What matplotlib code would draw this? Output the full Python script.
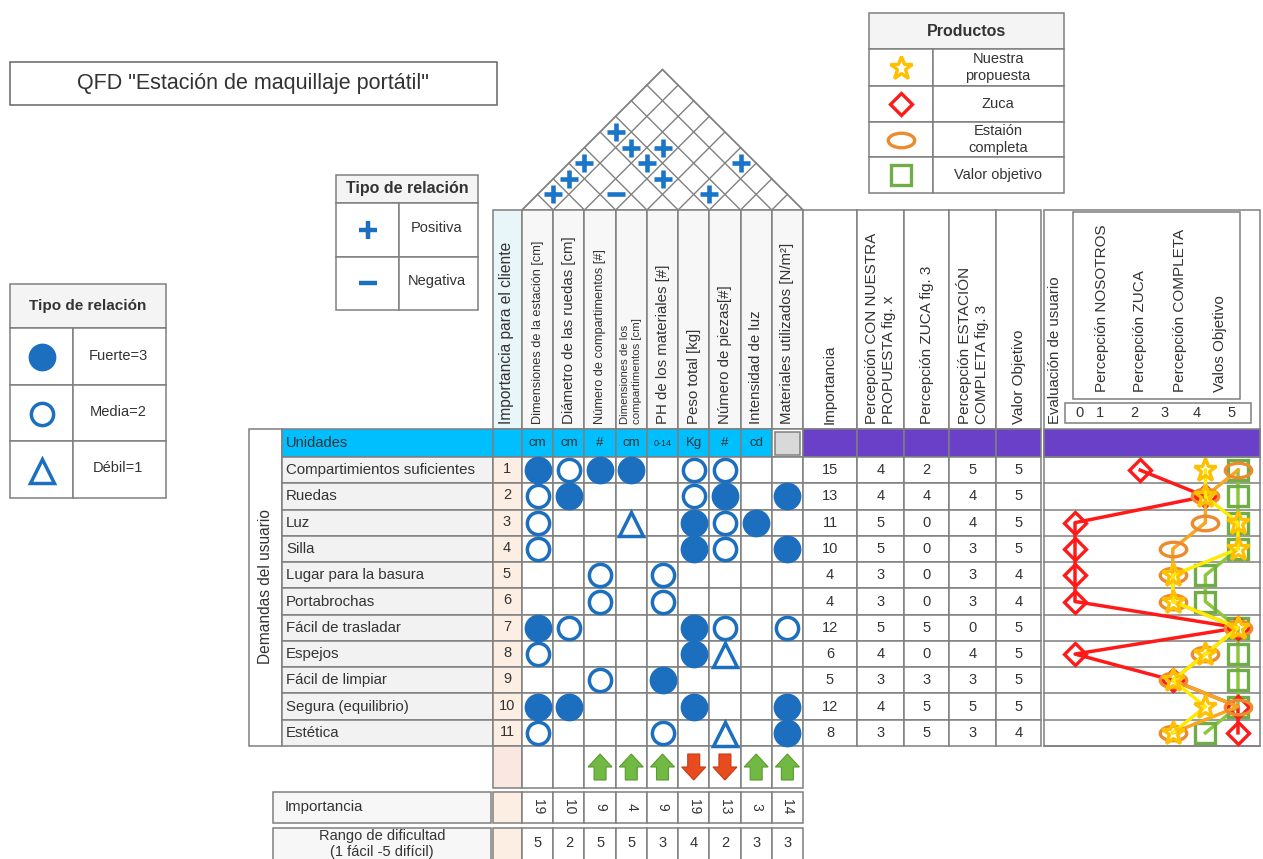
import numpy as np
import matplotlib.pyplot as plt
from matplotlib.patches import Rectangle, Polygon
from matplotlib.path import Path

plt.rcParams['font.family'] = ['Liberation Sans', 'DejaVu Sans']

## Datos del QFD
demandas = ['Compartimientos suficientes', 'Ruedas', 'Luz', 'Silla',
            'Lugar para la basura', 'Portabrochas', 'Fácil de trasladar',
            'Espejos', 'Fácil de limpiar', 'Segura (equilibrio)', 'Estética']
num_demanda = list(range(1, 12))

caracteristicas = ['Dimensiones de la estación [cm]', 'Diámetro de las ruedas [cm]',
                   'Número de compartimentos [#]', 'Dimensiones de los\ncompartimentos [cm]',
                   'PH de los materiales [#]', 'Peso total [kg]', 'Número de piezas[#]',
                   'Intensidad de luz', 'Materiales utilizados [N/m²]']
unidades = ['cm', 'cm', '#', 'cm', '0-14', 'Kg', '#', 'cd', '']

# 3 = fuerte, 2 = media, 1 = débil, 0 = nada
relaciones = [
    [3, 2, 3, 3, 0, 2, 2, 0, 0],
    [2, 3, 0, 0, 0, 2, 3, 0, 3],
    [2, 0, 0, 1, 0, 3, 2, 3, 0],
    [2, 0, 0, 0, 0, 3, 2, 0, 3],
    [0, 0, 2, 0, 2, 0, 0, 0, 0],
    [0, 0, 2, 0, 2, 0, 0, 0, 0],
    [3, 2, 0, 0, 0, 3, 2, 0, 2],
    [2, 0, 0, 0, 0, 3, 1, 0, 0],
    [0, 0, 2, 0, 3, 0, 0, 0, 0],
    [3, 3, 0, 0, 0, 3, 0, 0, 3],
    [2, 0, 0, 0, 2, 0, 1, 0, 3],
]

# techo: (columna i, columna j, signo)
techo = [(1, 2, '+'), (1, 3, '+'), (1, 4, '+'), (1, 6, '+'), (2, 6, '+'),
         (3, 7, '+'), (3, 6, '+'), (4, 6, '+'), (3, 4, '-'), (6, 7, '+'), (6, 9, '+')]

sentido = [0, 0, 1, 1, 1, -1, -1, 1, 1]
importancia_tecnica = [19, 10, 9, 4, 9, 19, 13, 3, 14]
dificultad = [5, 2, 5, 5, 3, 4, 2, 3, 3]

cab_derecha = ['Importancia', 'Percepción CON NUESTRA\nPROPUESTA fig. x', 'Percepción ZUCA fig. 3',
               'Percepción ESTACIÓN\nCOMPLETA fig. 3', 'Valor Objetivo']
importancia = [15, 13, 11, 10, 4, 4, 12, 6, 5, 12, 8]
perc_nosotros = [4, 4, 5, 5, 3, 3, 5, 4, 3, 4, 3]
perc_zuca = [2, 4, 0, 0, 0, 0, 5, 0, 3, 5, 5]
perc_completa = [5, 4, 4, 3, 3, 3, 0, 4, 3, 5, 3]
valor_objetivo = [5, 5, 5, 5, 4, 4, 5, 5, 5, 5, 4]
# valores que aparecen dibujados en la gráfica de evaluación
graf_completa = [5, 4, 4, 3, 3, 3, 5, 4, 3, 5, 3]

escala = [0, 1, 2, 3, 4, 5]
productos = ['Nuestra\npropuesta', 'Zuca', 'Estaión\ncompleta', 'Valor objetivo']

## Estilos
W, H = 1263, 859
GRIS = '#7f7f7f'
AZUL = '#1c6fbf'
TXT = '#333333'
CIAN = '#00bfff'
MORADO = '#6a40c8'
DURAZNO = '#fdeee3'
LW = 1.1

circ = Path.unit_circle()
elipse = Path(circ.vertices * [1, 0.55], circ.codes)
estilos = {
    'nosotros': dict(marker='*', ms=17, mec='#ffc000', color='#ffeb00'),
    'zuca': dict(marker='D', ms=11.5, mec='#ff1a1a', color='#ff1a1a'),
    'completa': dict(marker=elipse, ms=19, mec='#ee8a2e', color='#f5a623'),
    'objetivo': dict(marker='s', ms=14, mec='#70ad47', color='#8dc63f'),
}

fig = plt.figure(figsize=(W / 100, H / 100), dpi=100)
ax = fig.add_axes([0, 0, 1, 1])
ax.set_xlim(0, W)
ax.set_ylim(H, 0)
ax.axis('off')


def cell(x0, y0, x1, y1, fc='white', ec=GRIS, lw=LW):
    ax.add_patch(Rectangle((x0, y0), x1 - x0, y1 - y0, fc=fc, ec=ec, lw=lw, zorder=1))


def txt(x, y, s, **kw):
    kw.setdefault('color', TXT)
    kw.setdefault('fontsize', 10)
    kw.setdefault('ha', 'center')
    kw.setdefault('va', 'center')
    ax.text(x, y, s, zorder=5, **kw)


# geometría
n_tec, n_dem = len(caracteristicas), len(demandas)
X0, X1 = 522, 803
Y0, Y1 = 457, 746
cw = (X1 - X0) / n_tec
rh = (Y1 - Y0) / n_dem
xs = X0 + np.arange(n_tec + 1) * cw
ys = Y0 + np.arange(n_dem + 1) * rh
cx = X0 + (np.arange(n_tec) + 0.5) * cw
cy = Y0 + (np.arange(n_dem) + 0.5) * rh
xr = [803, 857, 904, 949, 996, 1041]

## Título
cell(10, 62, 497, 105, ec='#666666')
txt(253, 84, 'QFD "Estación de maquillaje portátil"', fontsize=15.5)

## Leyenda de relaciones (izquierda)
cell(10, 284, 166, 328, fc='#f4f4f4')
txt(88, 306, 'Tipo de relación', fontweight='bold', fontsize=11)
for k, (lab, y0, y1) in enumerate([('Fuerte=3', 328, 385), ('Media=2', 385, 441), ('Débil=1', 441, 498)]):
    cell(10, y0, 73, y1)
    cell(73, y0, 166, y1)
    txt(118, (y0 + y1) / 2 - 1, lab, fontsize=10.5)
ax.plot(42, 357, 'o', ms=20, color=AZUL, mec='none', zorder=3)
ax.plot(42, 414, 'o', ms=16, mfc='none', mec=AZUL, mew=2.5, zorder=3)
ax.plot(42, 471, '^', ms=17, mfc='none', mec=AZUL, mew=2.5, zorder=3)

## Leyenda del techo
cell(336, 175, 478, 203, fc='#f4f4f4')
txt(407, 189, 'Tipo de relación', fontweight='bold', fontsize=11.5)
for lab, y0, y1 in [('Positiva', 203, 257), ('Negativa', 257, 310)]:
    cell(336, y0, 399, y1)
    cell(399, y0, 478, y1)
    txt(437, (y0 + y1) / 2 - 2, lab, fontsize=10.5)
ax.plot(368, 230, '+', ms=13, mew=3.2, color=AZUL, zorder=3)
ax.plot(368, 283, '_', ms=13, mew=3.2, color=AZUL, zorder=3)

## Leyenda de productos
cell(869, 13, 1064, 49, fc='#f4f4f4')
txt(966, 31, 'Productos', fontweight='bold', fontsize=11.5)
for k, (lab, key) in enumerate(zip(productos, estilos)):
    y0, y1 = [49, 86, 122, 157][k], [86, 122, 157, 193][k]
    cell(869, y0, 933, y1)
    cell(933, y0, 1064, y1)
    txt(998, (y0 + y1) / 2, lab, fontsize=10.5, linespacing=1.3)
    st = estilos[key]
    ax.plot(901, (y0 + y1) / 2, marker=st['marker'], ms=st['ms'], mfc='none',
            mec=st['mec'], mew=2.4, zorder=3)

## Techo
yb = 210
apex = ((X0 + X1) / 2, yb - (X1 - X0) / 2)
ax.add_patch(Polygon([(X0, yb), (X1, yb), apex], closed=True, fc='white', ec='#808080', lw=1, zorder=1))
for xk in xs:
    t = (X1 - xk) / 2
    ax.plot([xk, xk + t], [yb, yb - t], color='#808080', lw=1, zorder=2)
    t = (xk - X0) / 2
    ax.plot([xk, xk - t], [yb, yb - t], color='#808080', lw=1, zorder=2)
for i, j, s in techo:
    x = X0 + ((i + j) / 2 - 0.5) * cw
    y = yb - (j - i) * cw / 2
    ax.plot(x, y, '+' if s == '+' else '_', ms=12.5, mew=3.3, color='#1a75c9', zorder=3)

## Cabeceras
cell(493, 210, 522, 429, fc='#e8f5f9')
txt(507, 424, 'Importancia para el cliente', rotation=90, va='bottom', fontsize=11.2)
for j, lab in enumerate(caracteristicas):
    cell(xs[j], 210, xs[j + 1], 429, fc='#f7f7f7')
    fs = 8.2 if '\n' in lab else (9.2 if lab.startswith(('Dime', 'Número de c')) else 10.8)
    txt(cx[j], 424, lab, rotation=90, va='bottom', fontsize=fs, multialignment='left')
for k, lab in enumerate(cab_derecha):
    cell(xr[k], 210, xr[k + 1], 429)
    txt((xr[k] + xr[k + 1]) / 2, 424, lab, rotation=90, va='bottom', fontsize=11,
        multialignment='left')

## Fila de unidades
cell(249, 429, 282, 746)
txt(265, 587, 'Demandas del usuario', rotation=90, fontsize=11.2)
cell(282, 429, 493, 457, fc=CIAN)
txt(286, 443, 'Unidades', ha='left', fontsize=10.5)
cell(493, 429, 522, 457, fc=CIAN)
for j, u in enumerate(unidades):
    if u:
        cell(xs[j], 429, xs[j + 1], 457, fc=CIAN)
        txt(cx[j], 443, u, fontsize=6.5 if len(u) > 2 else 9.5)
    else:
        cell(xs[j], 429, xs[j + 1], 457, fc='white')
        cell(xs[j] + 3, 432, xs[j + 1] - 3, 455, fc='#d9d9d9')
for k in range(5):
    cell(xr[k], 429, xr[k + 1], 457, fc=MORADO)

## Matriz principal
for i, dem in enumerate(demandas):
    cell(282, ys[i], 493, ys[i + 1], fc='#f2f2f2')
    txt(286, cy[i], dem, ha='left', fontsize=10.8)
    cell(493, ys[i], 522, ys[i + 1], fc=DURAZNO)
    txt(507, cy[i] - 1, str(num_demanda[i]), fontsize=10.5)
    for j in range(n_tec):
        cell(xs[j], ys[i], xs[j + 1], ys[i + 1])
    vals = [importancia[i], perc_nosotros[i], perc_zuca[i], perc_completa[i], valor_objetivo[i]]
    for k, v in enumerate(vals):
        cell(xr[k], ys[i], xr[k + 1], ys[i + 1])
        txt((xr[k] + xr[k + 1]) / 2, cy[i], str(v), fontsize=10.5)

for i, fila in enumerate(relaciones):
    for j, v in enumerate(fila):
        if v == 3:
            ax.plot(cx[j], cy[i], 'o', ms=20, color=AZUL, mec='none', zorder=3, clip_on=False)
        elif v == 2:
            ax.plot(cx[j], cy[i], 'o', ms=16, mfc='none', mec=AZUL, mew=2.5, zorder=3)
        elif v == 1:
            ax.plot(cx[j], cy[i] + 1, '^', ms=17, mfc='none', mec=AZUL, mew=2.5, zorder=3)

## Fila de flechas
ya, yb2 = 746, 788
cell(493, ya, 522, yb2, fc='#fbe7e2')
ym = (ya + yb2) / 2
for j, s in enumerate(sentido):
    cell(xs[j], ya, xs[j + 1], yb2)
    if s == 0:
        continue
    d = -s  # en pantalla y crece hacia abajo
    pts = [(0, 13 * d), (-12, 0), (-6, 0), (-6, -13 * d), (6, -13 * d), (6, 0), (12, 0)]
    fc, ec = ('#72b944', '#5a9a32') if s > 0 else ('#e84c1e', '#c43c12')
    ax.add_patch(Polygon([(cx[j] + px, ym + py) for px, py in pts], closed=True,
                         fc=fc, ec=ec, lw=0.8, zorder=3))

## Importancia técnica y dificultad
cell(273, 792, 491, 823, fc='#f7f7f7')
txt(285, 807, 'Importancia', ha='left', fontsize=10.8)
cell(493, 792, 522, 823, fc=DURAZNO)
cell(273, 828, 491, 862, fc='#f7f7f7')
txt(382, 844, 'Rango de dificultad\n(1 fácil -5 difícil)', fontsize=10.5, linespacing=1.15)
cell(493, 828, 522, 862, fc=DURAZNO)
for j in range(n_tec):
    cell(xs[j], 792, xs[j + 1], 823)
    txt(cx[j], 807, str(importancia_tecnica[j]), rotation=270, fontsize=10)
    cell(xs[j], 828, xs[j + 1], 862)
    txt(cx[j], 843, str(dificultad[j]), fontsize=10.5)

## Panel de evaluación
cell(1044, 210, 1260, 746)
txt(1055, 424, 'Evaluación de usuario', rotation=90, va='bottom', fontsize=10.8)
cell(1073, 212, 1240, 399)
for x, lab in [(1102, 'Percepción NOSOTROS'), (1140, 'Percepción ZUCA'),
               (1180, 'Percepción COMPLETA'), (1220, 'Valos Objetivo')]:
    txt(x, 392, lab, rotation=90, va='bottom', fontsize=11)
cell(1065, 403, 1251, 423)
for x, v in zip([1079, 1100, 1134, 1165, 1197, 1232], escala):
    txt(x, 413, str(v), fontsize=10.5)
cell(1044, 429, 1260, 457, fc=MORADO)
for y in ys:
    ax.plot([1044, 1260], [y, y], color=GRIS, lw=LW, zorder=2)

ax_ev = fig.add_axes([1044 / W, 1 - Y1 / H, (1260 - 1044) / W, (Y1 - Y0) / H])
ax_ev.set_xlim(-0.951, 5.675)
ax_ev.set_ylim(n_dem, 0)
ax_ev.axis('off')
yy = np.arange(n_dem) + 0.5
for key, serie in [('objetivo', valor_objetivo), ('zuca', perc_zuca),
                   ('completa', graf_completa), ('nosotros', perc_nosotros)]:
    st = estilos[key]
    ax_ev.plot(serie, yy, color=st['color'], lw=2.5, marker=st['marker'], ms=st['ms'],
               mfc='none', mec=st['mec'], mew=2.4, clip_on=False)

fig.savefig('out.png', dpi=100)
